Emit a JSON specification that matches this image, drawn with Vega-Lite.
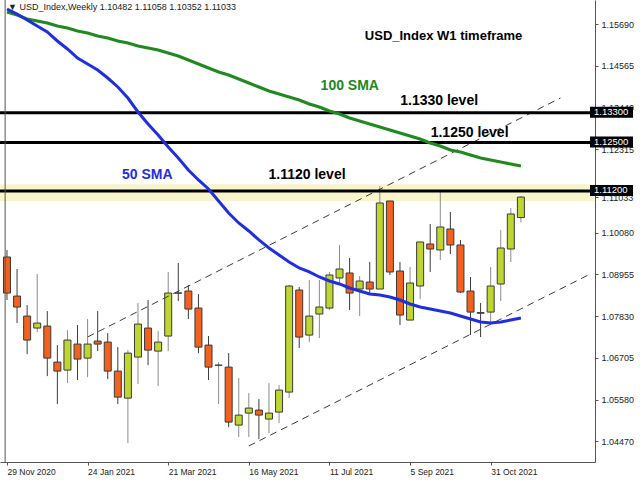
{
  "$schema": "https://vega.github.io/schema/vega-lite/v6.json",
  "width": 595,
  "height": 462,
  "autosize": "none",
  "padding": {"left": 0, "top": 0, "right": 45, "bottom": 18},
  "background": "white",
  "config": {"view": {"stroke": null}, "font": "Liberation Sans"},
  "datasets": {
    "candles": [
      {"d": "2020-11-29", "o": 1.09421, "h": 1.09610, "l": 1.08263, "c": 1.08451, "s50": 1.16094, "s100": 1.16013},
      {"d": "2020-12-06", "o": 1.08370, "h": 1.09098, "l": 1.07643, "c": 1.08074, "s50": 1.15959, "s100": 1.15932},
      {"d": "2020-12-13", "o": 1.07832, "h": 1.08128, "l": 1.06808, "c": 1.07186, "s50": 1.15798, "s100": 1.15825},
      {"d": "2020-12-20", "o": 1.07509, "h": 1.08963, "l": 1.07401, "c": 1.07643, "s50": 1.15636, "s100": 1.15771},
      {"d": "2020-12-27", "o": 1.07563, "h": 1.07966, "l": 1.06216, "c": 1.06701, "s50": 1.15475, "s100": 1.15717},
      {"d": "2021-01-03", "o": 1.06593, "h": 1.07051, "l": 1.05463, "c": 1.06351, "s50": 1.15233, "s100": 1.15636},
      {"d": "2021-01-10", "o": 1.06378, "h": 1.07455, "l": 1.06028, "c": 1.07186, "s50": 1.15018, "s100": 1.15583},
      {"d": "2021-01-17", "o": 1.07078, "h": 1.07590, "l": 1.06109, "c": 1.06674, "s50": 1.14775, "s100": 1.15502},
      {"d": "2021-01-24", "o": 1.06701, "h": 1.07751, "l": 1.06189, "c": 1.07078, "s50": 1.14614, "s100": 1.15448},
      {"d": "2021-01-31", "o": 1.07159, "h": 1.07966, "l": 1.06889, "c": 1.07078, "s50": 1.14453, "s100": 1.15367},
      {"d": "2021-02-07", "o": 1.07132, "h": 1.07374, "l": 1.06136, "c": 1.06351, "s50": 1.14237, "s100": 1.15314},
      {"d": "2021-02-14", "o": 1.06351, "h": 1.06997, "l": 1.05463, "c": 1.05651, "s50": 1.13995, "s100": 1.15233},
      {"d": "2021-02-21", "o": 1.05624, "h": 1.06916, "l": 1.04414, "c": 1.06835, "s50": 1.13699, "s100": 1.15179},
      {"d": "2021-02-28", "o": 1.06728, "h": 1.08182, "l": 1.06001, "c": 1.07616, "s50": 1.13323, "s100": 1.15098},
      {"d": "2021-03-07", "o": 1.07509, "h": 1.08263, "l": 1.06512, "c": 1.06916, "s50": 1.13000, "s100": 1.15045},
      {"d": "2021-03-14", "o": 1.06889, "h": 1.07428, "l": 1.05947, "c": 1.07132, "s50": 1.12704, "s100": 1.14991},
      {"d": "2021-03-21", "o": 1.07294, "h": 1.09017, "l": 1.06889, "c": 1.08451, "s50": 1.12381, "s100": 1.14910},
      {"d": "2021-03-28", "o": 1.08455, "h": 1.09259, "l": 1.08236, "c": 1.08447, "s50": 1.12085, "s100": 1.14829},
      {"d": "2021-04-04", "o": 1.08505, "h": 1.08667, "l": 1.07751, "c": 1.08020, "s50": 1.11762, "s100": 1.14722},
      {"d": "2021-04-11", "o": 1.08047, "h": 1.08424, "l": 1.06835, "c": 1.06997, "s50": 1.11493, "s100": 1.14614},
      {"d": "2021-04-18", "o": 1.07051, "h": 1.07294, "l": 1.06109, "c": 1.06458, "s50": 1.11251, "s100": 1.14506},
      {"d": "2021-04-25", "o": 1.06508, "h": 1.06593, "l": 1.05463, "c": 1.06512, "s50": 1.10928, "s100": 1.14399},
      {"d": "2021-05-02", "o": 1.06458, "h": 1.06835, "l": 1.04844, "c": 1.04979, "s50": 1.10605, "s100": 1.14318},
      {"d": "2021-05-09", "o": 1.04898, "h": 1.06163, "l": 1.04575, "c": 1.05167, "s50": 1.10336, "s100": 1.14210},
      {"d": "2021-05-16", "o": 1.05221, "h": 1.05759, "l": 1.04575, "c": 1.05356, "s50": 1.10121, "s100": 1.14103},
      {"d": "2021-05-23", "o": 1.05302, "h": 1.05598, "l": 1.04521, "c": 1.05167, "s50": 1.09879, "s100": 1.13995},
      {"d": "2021-05-30", "o": 1.05060, "h": 1.06028, "l": 1.04683, "c": 1.05221, "s50": 1.09663, "s100": 1.13888},
      {"d": "2021-06-06", "o": 1.05248, "h": 1.05974, "l": 1.04952, "c": 1.05840, "s50": 1.09475, "s100": 1.13807},
      {"d": "2021-06-13", "o": 1.05786, "h": 1.08667, "l": 1.05624, "c": 1.08640, "s50": 1.09287, "s100": 1.13726},
      {"d": "2021-06-20", "o": 1.08532, "h": 1.08613, "l": 1.06970, "c": 1.07267, "s50": 1.09125, "s100": 1.13645},
      {"d": "2021-06-27", "o": 1.07320, "h": 1.08802, "l": 1.07132, "c": 1.07832, "s50": 1.09018, "s100": 1.13538},
      {"d": "2021-07-04", "o": 1.07886, "h": 1.08802, "l": 1.07240, "c": 1.08074, "s50": 1.08883, "s100": 1.13457},
      {"d": "2021-07-11", "o": 1.08047, "h": 1.09017, "l": 1.07993, "c": 1.08937, "s50": 1.08775, "s100": 1.13349},
      {"d": "2021-07-18", "o": 1.08856, "h": 1.09744, "l": 1.08721, "c": 1.09098, "s50": 1.08695, "s100": 1.13269},
      {"d": "2021-07-25", "o": 1.08990, "h": 1.09394, "l": 1.07993, "c": 1.08451, "s50": 1.08587, "s100": 1.13161},
      {"d": "2021-08-01", "o": 1.08559, "h": 1.08910, "l": 1.07832, "c": 1.08775, "s50": 1.08506, "s100": 1.13080},
      {"d": "2021-08-08", "o": 1.08748, "h": 1.09286, "l": 1.08451, "c": 1.08559, "s50": 1.08426, "s100": 1.13000},
      {"d": "2021-08-15", "o": 1.08559, "h": 1.11332, "l": 1.08559, "c": 1.10874, "s50": 1.08399, "s100": 1.12919},
      {"d": "2021-08-22", "o": 1.10928, "h": 1.10928, "l": 1.08937, "c": 1.09017, "s50": 1.08345, "s100": 1.12838},
      {"d": "2021-08-29", "o": 1.09044, "h": 1.09286, "l": 1.07590, "c": 1.07859, "s50": 1.08264, "s100": 1.12758},
      {"d": "2021-09-05", "o": 1.07724, "h": 1.09152, "l": 1.07724, "c": 1.08721, "s50": 1.08157, "s100": 1.12677},
      {"d": "2021-09-12", "o": 1.08640, "h": 1.09825, "l": 1.08290, "c": 1.09825, "s50": 1.08076, "s100": 1.12596},
      {"d": "2021-09-19", "o": 1.09771, "h": 1.10309, "l": 1.09017, "c": 1.09636, "s50": 1.08022, "s100": 1.12488},
      {"d": "2021-09-26", "o": 1.09610, "h": 1.11197, "l": 1.09340, "c": 1.10228, "s50": 1.07968, "s100": 1.12408},
      {"d": "2021-10-03", "o": 1.10174, "h": 1.10632, "l": 1.09502, "c": 1.09744, "s50": 1.07914, "s100": 1.12300},
      {"d": "2021-10-10", "o": 1.09744, "h": 1.09879, "l": 1.08451, "c": 1.08478, "s50": 1.07834, "s100": 1.12246},
      {"d": "2021-10-17", "o": 1.08505, "h": 1.08883, "l": 1.07320, "c": 1.07939, "s50": 1.07753, "s100": 1.12166},
      {"d": "2021-10-24", "o": 1.07925, "h": 1.08182, "l": 1.07267, "c": 1.07908, "s50": 1.07672, "s100": 1.12085},
      {"d": "2021-10-31", "o": 1.07939, "h": 1.09152, "l": 1.07590, "c": 1.08640, "s50": 1.07645, "s100": 1.12031},
      {"d": "2021-11-07", "o": 1.08694, "h": 1.10148, "l": 1.08236, "c": 1.09663, "s50": 1.07672, "s100": 1.11977},
      {"d": "2021-11-14", "o": 1.09636, "h": 1.10739, "l": 1.09286, "c": 1.10578, "s50": 1.07726, "s100": 1.11923},
      {"d": "2021-11-21", "o": 1.10482, "h": 1.11058, "l": 1.10352, "c": 1.11033, "s50": 1.07780, "s100": 1.11870}
    ],
    "chan": [
      {"d": "2021-01-24T00:00:00Z", "p": 1.07269, "g": "upper"},
      {"d": "2021-12-18T12:00:00Z", "p": 1.13699, "g": "upper"},
      {"d": "2021-05-16T00:00:00Z", "p": 1.04336, "g": "lower"},
      {"d": "2022-01-08T00:00:00Z", "p": 1.08960, "g": "lower"}
    ],
    "levels": [
      {"p": 1.133, "t": "1.13300"},
      {"p": 1.125, "t": "1.12500"},
      {"p": 1.112, "t": "1.11200"}
    ]
  },
  "layer": [
    {
      "data": {"values": [{"lo": 1.1093, "hi": 1.1138}]},
      "mark": {"type": "rect", "color": "#f8f5cc"},
      "encoding": {
        "y": {"field": "lo", "type": "quantitative", "title": null},
        "y2": {"field": "hi"}
      }
    },
    {
      "data": {"name": "candles"},
      "mark": {"type": "rule", "strokeWidth": 1},
      "encoding": {
        "x": {
          "field": "d", "type": "temporal", "title": null,
          "scale": {"type": "utc", "domain": [{"year": 2020, "month": 11, "date": 27, "hours": 15, "utc": true}, {"year": 2022, "month": 1, "date": 8, "utc": true}]},
          "axis": {
            "title": null,
            "values": [
              {"year": 2020, "month": 11, "date": 29, "utc": true},
              {"year": 2021, "month": 1, "date": 24, "utc": true},
              {"year": 2021, "month": 3, "date": 21, "utc": true},
              {"year": 2021, "month": 5, "date": 16, "utc": true},
              {"year": 2021, "month": 7, "date": 11, "utc": true},
              {"year": 2021, "month": 9, "date": 5, "utc": true},
              {"year": 2021, "month": 10, "date": 31, "utc": true}
            ],
            "labelExpr": "utcFormat(datum.value, '%-d %b %Y')",
            "labelAlign": "left", "labelFlush": false, "labelOverlap": false,
            "grid": false, "tickSize": 3, "labelPadding": 2,
            "labelFontSize": 8.5, "labelFont": "Liberation Sans", "labelColor": "#222",
            "domainColor": "#555", "tickColor": "#555"
          }
        },
        "y": {
          "field": "l", "type": "quantitative", "title": null,
          "scale": {"domain": [1.03905, 1.16336], "nice": false, "zero": false},
          "axis": {
            "title": null, "orient": "right",
            "values": [1.1569, 1.14565, 1.1344, 1.12315, 1.11033, 1.1008, 1.08955, 1.0783, 1.06705, 1.0558, 1.0447],
            "format": ".5f", "grid": false, "tickSize": 3, "labelPadding": 3,
            "labelFontSize": 9, "labelFont": "Liberation Sans", "labelColor": "#222",
            "labelOverlap": false, "labelBound": false, "labelFlush": false,
            "domainColor": "#555", "tickColor": "#555"
          }
        },
        "y2": {"field": "h"},
        "color": {"condition": {"test": "datum.c >= datum.o", "value": "#8c8c8c"}, "value": "#3c3c3c"}
      }
    },
    {
      "data": {"name": "candles"},
      "mark": {"type": "bar", "width": 7, "stroke": "#3a3a3a", "strokeWidth": 1},
      "encoding": {
        "x": {"field": "d", "type": "temporal"},
        "y": {"field": "o", "type": "quantitative"},
        "y2": {"field": "c"},
        "fill": {"condition": {"test": "datum.c >= datum.o", "value": "#bfd630"}, "value": "#f2611d"}
      }
    },
    {
      "data": {"name": "chan"},
      "mark": {"type": "line", "strokeDash": [7, 5], "color": "#3c3c3c", "strokeWidth": 1},
      "encoding": {
        "x": {"field": "d", "type": "temporal"},
        "y": {"field": "p", "type": "quantitative"},
        "detail": {"field": "g"}
      }
    },
    {
      "data": {"name": "levels"},
      "mark": {"type": "rule", "color": "black", "strokeWidth": 3},
      "encoding": {"y": {"field": "p", "type": "quantitative"}}
    },
    {
      "data": {"name": "candles"},
      "mark": {"type": "line", "color": "#208a20", "strokeWidth": 3},
      "encoding": {
        "x": {"field": "d", "type": "temporal"},
        "y": {"field": "s100", "type": "quantitative"}
      }
    },
    {
      "data": {"name": "candles"},
      "mark": {"type": "line", "color": "#1f2fe0", "strokeWidth": 3},
      "encoding": {
        "x": {"field": "d", "type": "temporal"},
        "y": {"field": "s50", "type": "quantitative"}
      }
    },
    {
      "data": {"values": [
        {"d": "2021-08-29T04:00:00Z", "p": 1.13618, "t": "1.1330 level"},
        {"d": "2021-09-19T08:00:00Z", "p": 1.12758, "t": "1.1250 level"},
        {"d": "2021-05-29T16:00:00Z", "p": 1.11627, "t": "1.1120 level"}
      ]},
      "mark": {"type": "text", "align": "left", "baseline": "middle", "fontSize": 14, "fontWeight": "bold", "color": "black", "font": "Liberation Sans"},
      "encoding": {
        "x": {"field": "d", "type": "temporal"},
        "y": {"field": "p", "type": "quantitative"},
        "text": {"field": "t"}
      }
    },
    {
      "data": {"values": [{"d": "2021-08-04T14:00:00Z", "p": 1.15367, "t": "USD_Index W1 timeframe"}]},
      "mark": {"type": "text", "align": "left", "baseline": "middle", "fontSize": 13, "fontWeight": "bold", "color": "black", "font": "Liberation Sans"},
      "encoding": {
        "x": {"field": "d", "type": "temporal"},
        "y": {"field": "p", "type": "quantitative"},
        "text": {"field": "t"}
      }
    },
    {
      "data": {"values": [{"d": "2021-07-04T21:00:00Z", "p": 1.14022, "t": "100 SMA"}]},
      "mark": {"type": "text", "align": "left", "baseline": "middle", "fontSize": 14, "fontWeight": "bold", "color": "#208a20", "font": "Liberation Sans"},
      "encoding": {
        "x": {"field": "d", "type": "temporal"},
        "y": {"field": "p", "type": "quantitative"},
        "text": {"field": "t"}
      }
    },
    {
      "data": {"values": [{"d": "2021-02-16T22:00:00Z", "p": 1.11627, "t": "50 SMA"}]},
      "mark": {"type": "text", "align": "left", "baseline": "middle", "fontSize": 14, "fontWeight": "bold", "color": "#1f2fe0", "font": "Liberation Sans"},
      "encoding": {
        "x": {"field": "d", "type": "temporal"},
        "y": {"field": "p", "type": "quantitative"},
        "text": {"field": "t"}
      }
    },
    {
      "data": {"values": [{}]},
      "mark": {"type": "text", "align": "left", "baseline": "top", "dx": 3, "dy": 3, "fontSize": 9, "color": "#222", "font": "Liberation Sans", "text": "▼ USD_Index,Weekly  1.10482 1.11058 1.10352 1.11033"},
      "encoding": {
        "x": {"datum": {"year": 2020, "month": 11, "date": 27, "hours": 15, "utc": true}, "type": "temporal"},
        "y": {"datum": 1.16336, "type": "quantitative"}
      }
    },
    {
      "data": {"values": [{}]},
      "mark": {"type": "rule", "color": "#555", "strokeWidth": 1},
      "encoding": {
        "x": {"datum": {"year": 2020, "month": 11, "date": 27, "hours": 17, "utc": true}, "type": "temporal"}
      }
    },
    {
      "data": {"name": "levels"},
      "mark": {"type": "rect", "color": "black", "xOffset": 0, "x2Offset": 43, "yOffset": -6, "y2Offset": 5},
      "encoding": {
        "x": {"datum": {"year": 2022, "month": 1, "date": 8, "utc": true}, "type": "temporal"},
        "x2": {"datum": {"year": 2022, "month": 1, "date": 8, "utc": true}},
        "y": {"field": "p", "type": "quantitative"},
        "y2": {"field": "p"}
      }
    },
    {
      "data": {"name": "levels"},
      "mark": {"type": "text", "color": "white", "align": "left", "baseline": "middle", "dx": 4, "dy": -0.5, "fontSize": 9.5, "font": "Liberation Sans"},
      "encoding": {
        "x": {"datum": {"year": 2022, "month": 1, "date": 8, "utc": true}, "type": "temporal"},
        "y": {"field": "p", "type": "quantitative"},
        "text": {"field": "t"}
      }
    }
  ]
}
